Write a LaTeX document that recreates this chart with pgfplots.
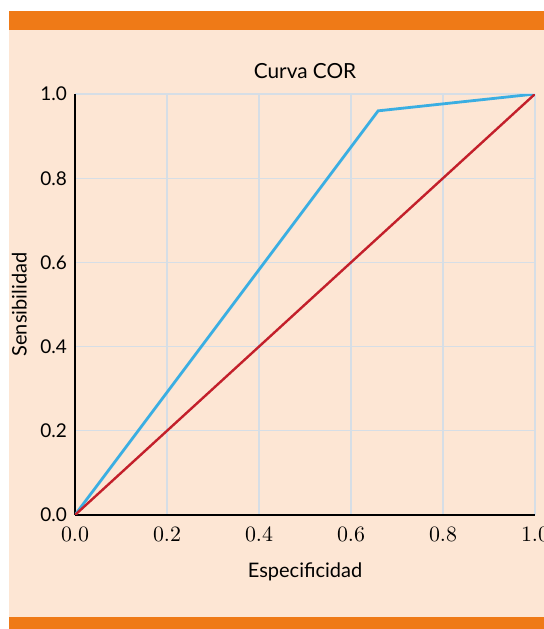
\documentclass[border=0pt]{standalone}
\usepackage{fontspec}
\setmainfont{Lato}
\usepackage{pgfplots}
\pgfplotsset{compat=1.18}
\definecolor{orangebar}{HTML}{EF7A17}
\definecolor{peach}{HTML}{FDE6D4}
\definecolor{roc}{HTML}{3AAEE2}
\definecolor{diag}{HTML}{C3202B}
\definecolor{gridc}{HTML}{D6DEE6}
\begin{document}
\begin{tikzpicture}
\fill[white] (0,0) rectangle (272pt,314.5pt);
\fill[peach] (4.5pt,6pt) rectangle (272pt,299.5pt);
\fill[orangebar] (4.5pt,299.5pt) rectangle (272pt,309pt);
\fill[orangebar] (4.5pt,0pt) rectangle (272pt,6pt);
\begin{axis}[
  at={(37.5pt,57pt)}, anchor=origin,
  scale only axis, width=230pt, height=210.5pt,
  xmin=0, xmax=1, ymin=0, ymax=1,
  axis x line*=bottom, axis y line*=left,
  axis line style={-, black, line width=0.9pt},
  major tick length=0pt,
  grid=major, grid style={gridc, line width=0.6pt},
  xtick={0,0.2,0.4,0.6,0.8,1}, ytick={0,0.2,0.4,0.6,0.8,1},
  /pgf/number format/fixed, /pgf/number format/fixed zerofill, /pgf/number format/precision=1,
  xticklabel style={font=\fontsize{10.5}{12}\selectfont, yshift=-2.5pt},
  yticklabel style={/pgf/number format/assume math mode=true, font=\fontsize{9.5}{11}\selectfont, xshift=-0.5pt},
  title={Curva COR},
  title style={font=\fontsize{10.4}{12}\selectfont, yshift=-2pt},
  xlabel={Especificidad},
  ylabel={Sensibilidad},
  label style={font=\fontsize{10}{12}\selectfont},
  xlabel style={yshift=-4pt},
]
\addplot[roc, line width=1.4pt] coordinates {(0,0) (0.659,0.96) (1,1)};
\addplot[diag, line width=1.2pt] coordinates {(0,0) (1,1)};
\end{axis}
\pgfresetboundingbox
\useasboundingbox (0,0) rectangle (272pt,314.5pt);
\end{tikzpicture}
\end{document}
